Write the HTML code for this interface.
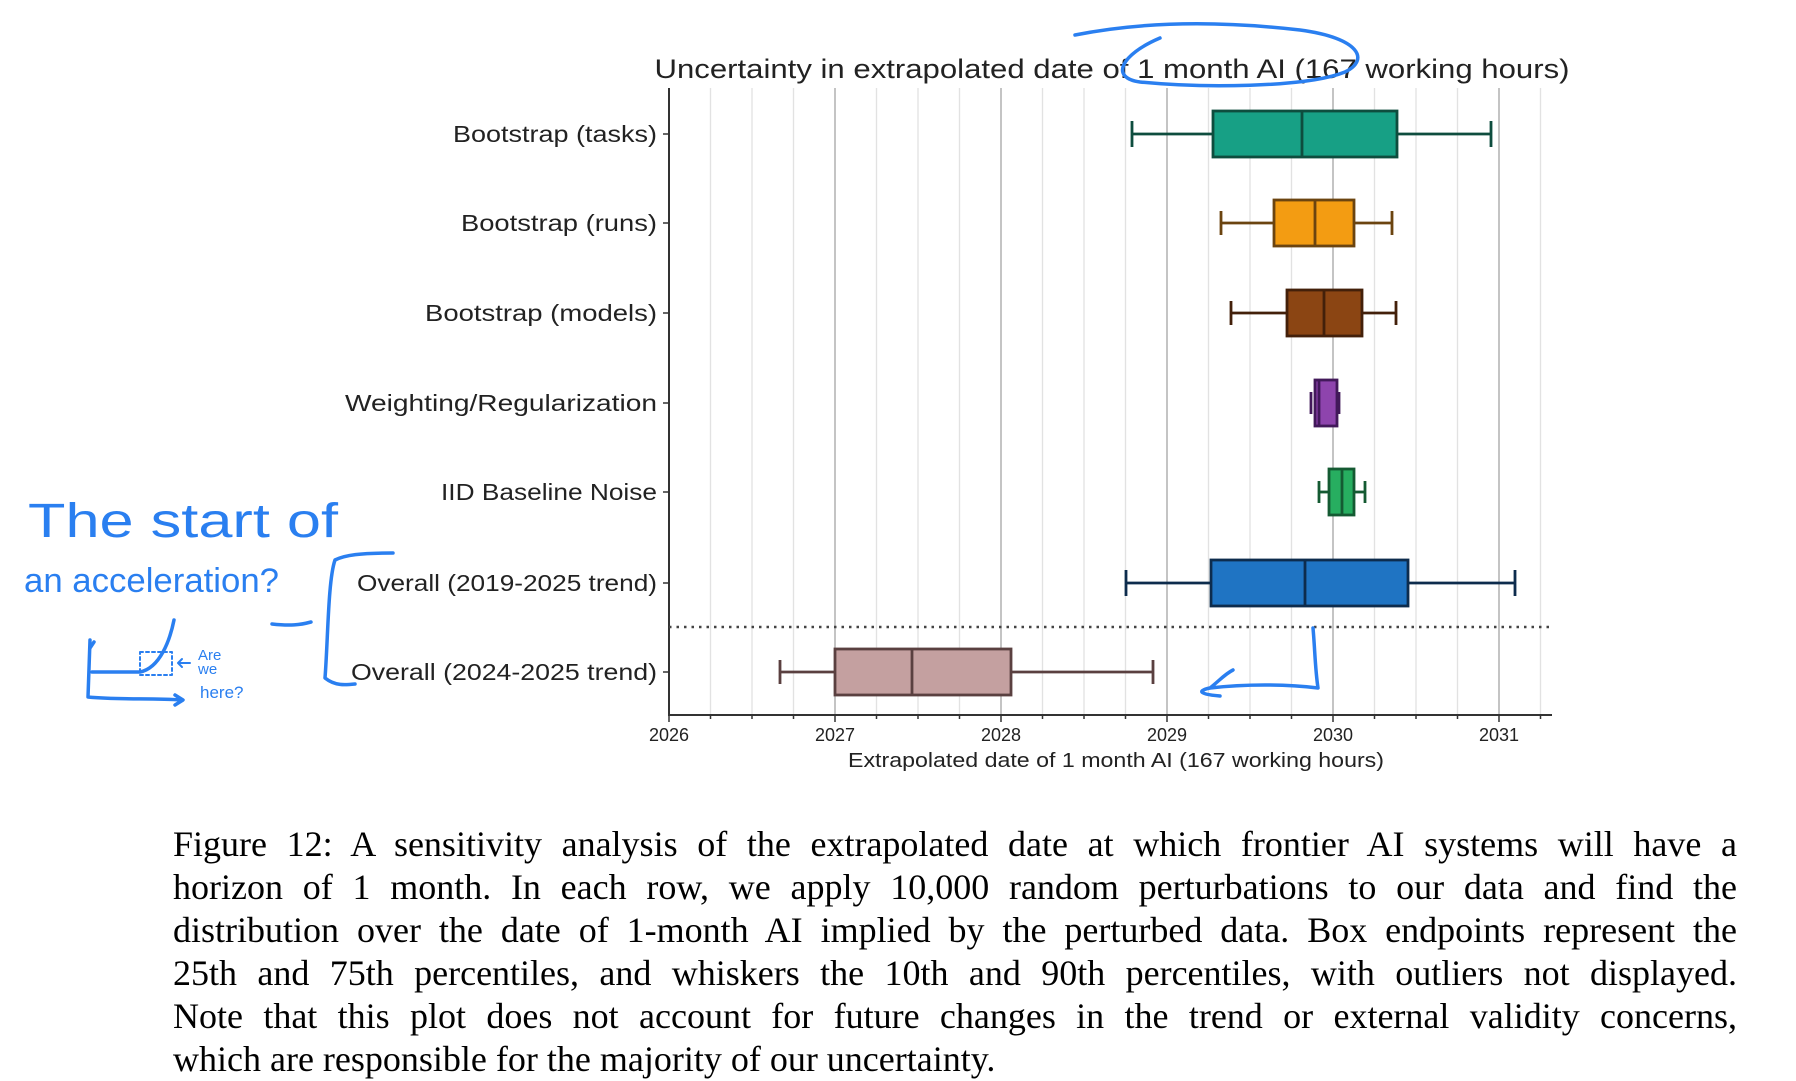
<!DOCTYPE html>
<html><head><meta charset="utf-8"><style>
html,body{margin:0;padding:0;background:#fff;width:1796px;height:1070px;overflow:hidden}
.cap{position:absolute;left:173px;width:1564px;font-family:"Liberation Serif",serif;font-size:36px;color:#000;white-space:nowrap}
.cap div{height:43px;line-height:43px;text-align:justify;text-align-last:justify;white-space:normal}
.cap div.last{text-align-last:left}
</style></head><body>
<svg width="1796" height="1070" viewBox="0 0 1796 1070" xmlns="http://www.w3.org/2000/svg" style="position:absolute;left:0;top:0">
<g font-family="Liberation Sans, sans-serif" fill="#222">
<g stroke="#e2e2e2" stroke-width="1.3">
<line x1="710.5" y1="88" x2="710.5" y2="715"/><line x1="752" y1="88" x2="752" y2="715"/><line x1="793.5" y1="88" x2="793.5" y2="715"/>
<line x1="876.5" y1="88" x2="876.5" y2="715"/><line x1="918" y1="88" x2="918" y2="715"/><line x1="959.5" y1="88" x2="959.5" y2="715"/>
<line x1="1042.5" y1="88" x2="1042.5" y2="715"/><line x1="1084" y1="88" x2="1084" y2="715"/><line x1="1125.5" y1="88" x2="1125.5" y2="715"/>
<line x1="1208.5" y1="88" x2="1208.5" y2="715"/><line x1="1250" y1="88" x2="1250" y2="715"/><line x1="1291.5" y1="88" x2="1291.5" y2="715"/>
<line x1="1374.5" y1="88" x2="1374.5" y2="715"/><line x1="1416" y1="88" x2="1416" y2="715"/><line x1="1457.5" y1="88" x2="1457.5" y2="715"/>
<line x1="1540.5" y1="88" x2="1540.5" y2="715"/>
</g>
<g stroke="#b0b0b0" stroke-width="1.5">
<line x1="835" y1="88" x2="835" y2="715"/><line x1="1001" y1="88" x2="1001" y2="715"/><line x1="1167" y1="88" x2="1167" y2="715"/><line x1="1333" y1="88" x2="1333" y2="715"/><line x1="1499" y1="88" x2="1499" y2="715"/>
</g>
<line x1="669" y1="88" x2="669" y2="716" stroke="#333" stroke-width="2"/>
<line x1="668" y1="715" x2="1552" y2="715" stroke="#333" stroke-width="2"/>
<g stroke="#333" stroke-width="1.5">
<line x1="669" y1="715" x2="669" y2="722"/><line x1="835" y1="715" x2="835" y2="722"/><line x1="1001" y1="715" x2="1001" y2="722"/><line x1="1167" y1="715" x2="1167" y2="722"/><line x1="1333" y1="715" x2="1333" y2="722"/><line x1="1499" y1="715" x2="1499" y2="722"/>
<line x1="710.5" y1="715" x2="710.5" y2="719"/><line x1="752" y1="715" x2="752" y2="719"/><line x1="793.5" y1="715" x2="793.5" y2="719"/>
<line x1="876.5" y1="715" x2="876.5" y2="719"/><line x1="918" y1="715" x2="918" y2="719"/><line x1="959.5" y1="715" x2="959.5" y2="719"/>
<line x1="1042.5" y1="715" x2="1042.5" y2="719"/><line x1="1084" y1="715" x2="1084" y2="719"/><line x1="1125.5" y1="715" x2="1125.5" y2="719"/>
<line x1="1208.5" y1="715" x2="1208.5" y2="719"/><line x1="1250" y1="715" x2="1250" y2="719"/><line x1="1291.5" y1="715" x2="1291.5" y2="719"/>
<line x1="1374.5" y1="715" x2="1374.5" y2="719"/><line x1="1416" y1="715" x2="1416" y2="719"/><line x1="1457.5" y1="715" x2="1457.5" y2="719"/><line x1="1540.5" y1="715" x2="1540.5" y2="719"/>
<line x1="663" y1="134" x2="669" y2="134"/><line x1="663" y1="223" x2="669" y2="223"/><line x1="663" y1="313" x2="669" y2="313"/><line x1="663" y1="403" x2="669" y2="403"/><line x1="663" y1="492" x2="669" y2="492"/><line x1="663" y1="583" x2="669" y2="583"/><line x1="663" y1="672" x2="669" y2="672"/>
</g>
<g font-size="18" text-anchor="middle">
<text x="669" y="741">2026</text><text x="835" y="741">2027</text><text x="1001" y="741">2028</text><text x="1167" y="741">2029</text><text x="1333" y="741">2030</text><text x="1499" y="741">2031</text>
</g>
<text x="1116" y="767" font-size="20" text-anchor="middle" textLength="536" lengthAdjust="spacingAndGlyphs">Extrapolated date of 1 month AI (167 working hours)</text>
<text x="1112" y="78" font-size="27" text-anchor="middle" textLength="915" lengthAdjust="spacingAndGlyphs">Uncertainty in extrapolated date of 1 month AI (167 working hours)</text>
<g font-size="23" text-anchor="end">
<text x="657" y="142" textLength="204" lengthAdjust="spacingAndGlyphs">Bootstrap (tasks)</text>
<text x="657" y="231" textLength="196" lengthAdjust="spacingAndGlyphs">Bootstrap (runs)</text>
<text x="657" y="321" textLength="232" lengthAdjust="spacingAndGlyphs">Bootstrap (models)</text>
<text x="657" y="411" textLength="312" lengthAdjust="spacingAndGlyphs">Weighting/Regularization</text>
<text x="657" y="500" textLength="216" lengthAdjust="spacingAndGlyphs">IID Baseline Noise</text>
<text x="657" y="591" textLength="300" lengthAdjust="spacingAndGlyphs">Overall (2019-2025 trend)</text>
<text x="657" y="680" textLength="306" lengthAdjust="spacingAndGlyphs">Overall (2024-2025 trend)</text>
</g>
<line x1="669" y1="627" x2="1552" y2="627" stroke="#444" stroke-width="2.5" stroke-dasharray="2.5,5"/>
<g stroke-width="2.8">
<g stroke="#0e4d3e"><line x1="1132" y1="134" x2="1213" y2="134"/><line x1="1397" y1="134" x2="1491" y2="134"/><line x1="1132" y1="121" x2="1132" y2="147"/><line x1="1491" y1="121" x2="1491" y2="147"/><rect x="1213" y="111" width="184" height="46" fill="#17a085"/><line x1="1302" y1="111" x2="1302" y2="157"/></g>
<g stroke="#6b4410"><line x1="1221" y1="223" x2="1274" y2="223"/><line x1="1354" y1="223" x2="1392" y2="223"/><line x1="1221" y1="211" x2="1221" y2="235"/><line x1="1392" y1="211" x2="1392" y2="235"/><rect x="1274" y="200" width="80" height="46" fill="#f39c12"/><line x1="1315" y1="200" x2="1315" y2="246"/></g>
<g stroke="#43200a"><line x1="1231" y1="313" x2="1287" y2="313"/><line x1="1362" y1="313" x2="1396" y2="313"/><line x1="1231" y1="301" x2="1231" y2="325"/><line x1="1396" y1="301" x2="1396" y2="325"/><rect x="1287" y="290" width="75" height="46" fill="#8b4513"/><line x1="1324" y1="290" x2="1324" y2="336"/></g>
<g stroke="#42195a"><line x1="1311" y1="392" x2="1311" y2="414"/><line x1="1339" y1="392" x2="1339" y2="414"/><rect x="1315" y="380" width="22" height="46" fill="#8e44ad"/><line x1="1319" y1="380" x2="1319" y2="426"/></g>
<g stroke="#145a32"><line x1="1319" y1="492" x2="1329" y2="492"/><line x1="1354" y1="492" x2="1365" y2="492"/><line x1="1319" y1="481" x2="1319" y2="503"/><line x1="1365" y1="481" x2="1365" y2="503"/><rect x="1329" y="469" width="25" height="46" fill="#27ae60"/><line x1="1342" y1="469" x2="1342" y2="515"/></g>
<g stroke="#0d2c4d"><line x1="1126" y1="583" x2="1211" y2="583"/><line x1="1408" y1="583" x2="1515" y2="583"/><line x1="1126" y1="570" x2="1126" y2="596"/><line x1="1515" y1="570" x2="1515" y2="596"/><rect x="1211" y="560" width="197" height="46" fill="#1f74c3"/><line x1="1305" y1="560" x2="1305" y2="606"/></g>
<g stroke="#5a4040"><line x1="780" y1="672" x2="835" y2="672"/><line x1="1011" y1="672" x2="1153" y2="672"/><line x1="780" y1="660" x2="780" y2="684"/><line x1="1153" y1="660" x2="1153" y2="684"/><rect x="835" y="649" width="176" height="46" fill="#c4a0a0"/><line x1="912" y1="649" x2="912" y2="695"/></g>
</g>
</g>
<g fill="none" stroke="#2a7ff0" stroke-width="3.5" stroke-linecap="round" stroke-linejoin="round">
<path d="M1075 35 C1150 20 1230 22 1300 30 C1360 38 1370 60 1345 72 C1305 88 1200 88 1140 82 C1110 78 1120 55 1160 38"/>
<path d="M1313 628 C1315 650 1315 668 1318 688 C1285 684 1245 684 1210 688 C1200 690 1195 694 1220 696 M1210 688 C1220 680 1225 674 1233 670"/>
<path d="M393 553 C360 553 345 555 335 560 C328 580 328 640 325 678 C335 686 345 685 355 684"/>
<path d="M272 624 C290 626 300 625 311 622"/>
<path d="M90 640 L88 697 C120 700 150 698 182 700 M175 695 L183 700 L175 705"/>
<path d="M90 648 L94 642"/>
<path d="M92 672 L140 672 C160 668 170 640 174 620"/>
<path d="M140 652 L172 652 L172 675 L140 675 Z" stroke-width="2" stroke-dasharray="3,3"/>
<path d="M178 663 L190 663 M182 659 L178 663 L182 667" stroke-width="2"/>
</g>
<g fill="#2a7ff0" font-family="Liberation Sans, sans-serif">
<text x="28" y="537" font-size="48" textLength="310" lengthAdjust="spacingAndGlyphs">The start of</text>
<text x="24" y="592" font-size="34" textLength="255" lengthAdjust="spacingAndGlyphs">an acceleration?</text>
<text x="198" y="660" font-size="15">Are</text>
<text x="198" y="674" font-size="15">we</text>
<text x="200" y="698" font-size="17">here?</text>
</g>
</svg>
<div class="cap" style="top:823px">
<div>Figure 12: A sensitivity analysis of the extrapolated date at which frontier AI systems will have a</div>
<div>horizon of 1 month. In each row, we apply 10,000 random perturbations to our data and find the</div>
<div>distribution over the date of 1-month AI implied by the perturbed data. Box endpoints represent the</div>
<div>25th and 75th percentiles, and whiskers the 10th and 90th percentiles, with outliers not displayed.</div>
<div>Note that this plot does not account for future changes in the trend or external validity concerns,</div>
<div class="last">which are responsible for the majority of our uncertainty.</div>
</div>
</body></html>
